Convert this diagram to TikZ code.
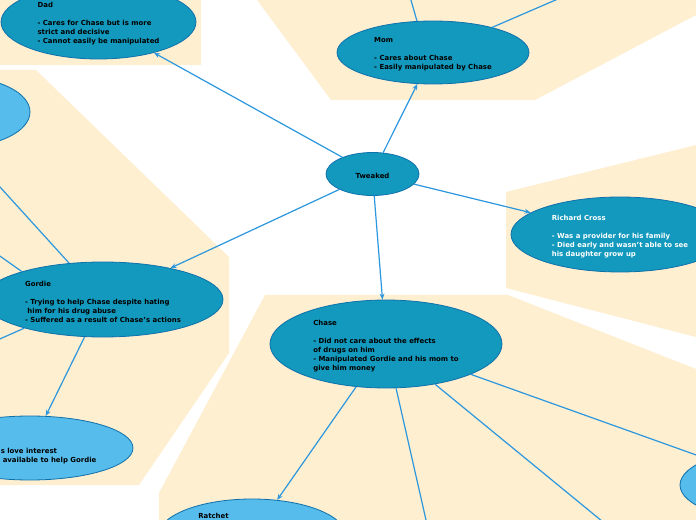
\documentclass[tikz,border=0pt]{standalone}
\usepackage{fontspec}
\setmainfont{DejaVu Sans}
\usetikzlibrary{shapes.geometric,arrows.meta}
\definecolor{cream}{RGB}{254,239,208}
\definecolor{nodeTeal}{RGB}{19,153,189}
\definecolor{nodeEdge}{RGB}{16,112,172}
\definecolor{lightNode}{RGB}{86,188,235}
\definecolor{linkBlue}{RGB}{43,151,222}
\newcommand{\toppad}{\rule{0pt}{6.9pt}}
\newcommand{\apos}{\char"0027\relax}
\begin{document}
\begin{tikzpicture}[x=0.75pt,y=-0.75pt,
  every node/.style={font=\fontsize{5.2}{6.75}\selectfont\bfseries},
  topic/.style={ellipse, draw=nodeEdge, line width=0.6pt, fill=nodeTeal, inner sep=0pt, align=left},
  subtopic/.style={ellipse, draw=nodeEdge, line width=0.6pt, fill=lightNode, inner sep=0pt, align=left},
  plaintext/.style={inner sep=0pt, align=left},
  link/.style={draw=linkBlue, line width=0.9pt},
  arr/.style={link, -{Stealth[length=4.5pt,width=3.6pt]}},
  region/.style={fill=cream, draw=none}]
\useasboundingbox (0,0) rectangle (696,520);
\clip (0,0) rectangle (696,520);
\fill[white] (0,0) rectangle (696,520);
% background regions
\fill[region] (0,0) rectangle (201,65);
\fill[region] (257,0) -- (331,100) -- (535,100) -- (696,15) -- (696,0) -- cycle;
\fill[region] (0,70) -- (36,70) -- (229,257) -- (229,353) -- (139,485) -- (0,485) -- cycle;
\fill[region] (506,192) -- (696,145) -- (696,337) -- (506,288) -- cycle;
\fill[region] (265,295) -- (508,295) -- (696,369) -- (696,520) -- (159,520) -- (159,493) -- cycle;
% nodes
\node[topic, minimum width=69.75pt, minimum height=32.25pt] (tweaked) at (372.5,174) {\toppad Tweaked};
\node[topic, minimum width=144pt, minimum height=47.25pt] (mom) at (433,52.5)
  {\toppad Mom\\[6.75pt]- Cares about Chase\\- Easily manipulated by Chase};
\node[topic, minimum width=146.25pt, minimum height=55.5pt] (dad) at (98.5,22)
  {\toppad Dad\\[6.75pt]- Cares for Chase but is more\\strict and decisive\\- Cannot easily be manipulated};
\node[topic, text=white, minimum width=163.5pt, minimum height=56.25pt] (richard) at (620,234.5)
  {\toppad Richard Cross\\[6.75pt]- Was a provider for his family\\- Died early and wasn\apos t able to see\\his daughter grow up};
\node[topic, minimum width=180pt, minimum height=56.25pt] (gordie) at (103,299.5)
  {\toppad Gordie\\[6.75pt]- Trying to help Chase despite hating\\\hspace*{1.8pt}him for his drug abuse\\- Suffered as a result of Chase\apos s actions};
\node[topic, minimum width=174pt, minimum height=66pt] (chase) at (386,344)
  {\toppad Chase\\[6.75pt]- Did not care about the effects\\of drugs on him\\- Manipulated Gordie and his mom to\\give him money};
\node[subtopic, minimum width=106.5pt, minimum height=52.5pt] (topleft) at (-41,112) {};
\node[subtopic, minimum width=154.5pt, minimum height=48pt] (love) at (30,448) {};
\node[plaintext, anchor=north west] (lovetext) at (0.5,448) {s love interest\\\hspace*{1.5pt}available to help Gordie};
\node[subtopic, minimum width=141pt, minimum height=55.5pt] (ratchet) at (252,536) {};
\node[plaintext, anchor=north west] (ratchettext) at (198,512.5) {Ratchet};
\node[subtopic, minimum width=150pt, minimum height=55.5pt] (rightnode) at (780,485) {};
% free ends
\coordinate (cM1) at (393,-63);
\coordinate (cM2) at (618,-27);
\coordinate (cG1) at (-34.5,149);
\coordinate (cG2) at (-20,242);
\coordinate (cG3) at (-25,350);
\coordinate (cB1) at (446,608);
\coordinate (cB2) at (686,590);
% connectors
\draw[arr] (tweaked) -- (dad);
\draw[arr] (tweaked) -- (mom);
\draw[arr] (tweaked) -- (richard);
\draw[arr] (tweaked) -- (gordie);
\draw[arr] (tweaked) -- (chase);
\draw[arr] (chase) -- (ratchet);
\draw[arr] (chase) -- (rightnode);
\draw[arr] (chase) -- (cB1);
\draw[arr] (chase) -- (cB2);
\draw[arr] (gordie) -- (love);
\draw[arr] (mom.117) -- (cM1);
\draw[arr] (mom.23) -- (cM2);
\draw[arr] (gordie.133.4) -- (cG1);
\draw[arr] (gordie.161.6) -- (cG2);
\draw[arr] (gordie.200.8) -- (cG3);
\end{tikzpicture}
\end{document}
